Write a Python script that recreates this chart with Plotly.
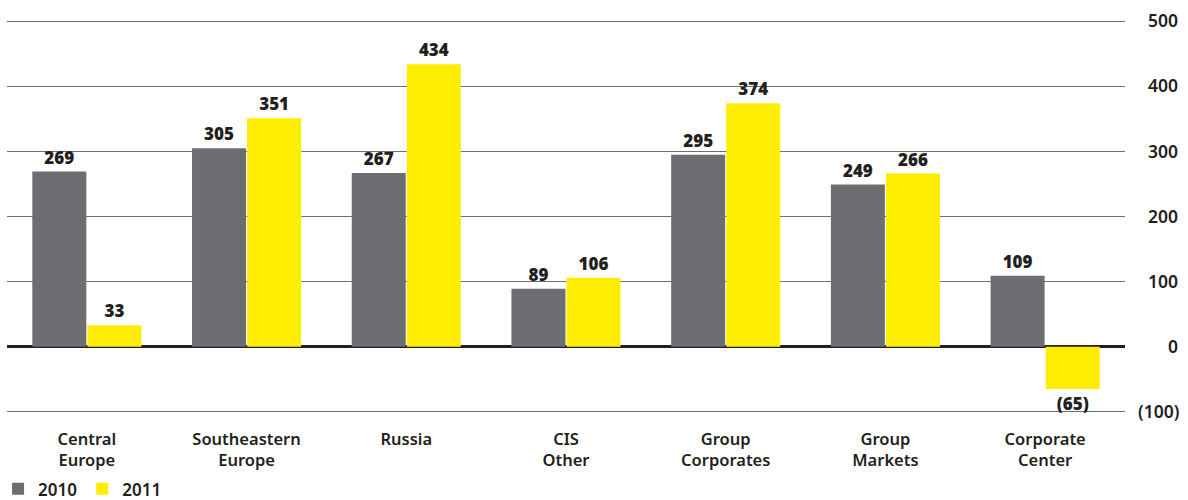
import plotly.graph_objects as go

categories = ["Central<br>Europe", "Southeastern<br>Europe", "Russia", "CIS<br>Other",
              "Group<br>Corporates", "Group<br>Markets", "Corporate<br>Center"]
values_2010 = [269, 305, 267, 89, 295, 249, 109]
values_2011 = [33, 351, 434, 106, 374, 266, -65]
tick_vals = [-100, 0, 100, 200, 300, 400, 500]
tick_text = ["(100)", "0", "100", "200", "300", "400", "500"]


def fmt(v):
    return f"({abs(v)})" if v < 0 else f"{v}"


def right_align(labels):
    # pad with figure spaces so the right-side labels line up on their right edge
    out = []
    for t in labels:
        if t.startswith("("):
            out.append(t)
        else:
            out.append("\u2007" * (4 - len(t)) + t)
    return out


GRAY = "#6d6e71"
YELLOW = "#ffed00"
FONT = "Noto Sans"

fig = go.Figure()
for name, vals, col in [("2010", values_2010, GRAY), ("2011", values_2011, YELLOW)]:
    fig.add_trace(go.Bar(
        name=name, x=categories, y=vals, marker=dict(color=col, line=dict(width=0)),
        text=[fmt(v) for v in vals], textposition="outside",
        textfont=dict(family=FONT, size=17, color="#231f20", weight=900),
        cliponaxis=False,
    ))

fig.update_layout(
    width=1188, height=500,
    margin=dict(l=7, r=63, t=20, b=87, autoexpand=False),
    paper_bgcolor="white", plot_bgcolor="white",
    barmode="group", bargap=0.31, bargroupgap=0.02,
    showlegend=True,
    legend=dict(orientation="h", x=-0.008, xanchor="left", y=-0.24, yanchor="bottom",
                font=dict(family=FONT, size=17, color="#231f20", weight=600),
                itemwidth=30, tracegroupgap=0, itemsizing="constant",
                traceorder="normal", bgcolor="rgba(0,0,0,0)"),
    xaxis=dict(showgrid=False, showline=False, ticks="", ticklabelstandoff=14,
               tickfont=dict(family=FONT, size=16.5, color="#231f20", weight=600)),
    yaxis=dict(side="right", range=[-102, 502], tickvals=tick_vals,
               ticktext=right_align(tick_text),
               showgrid=True, gridcolor="#6d6e71", gridwidth=1.3,
               zeroline=True, zerolinecolor="#231f20", zerolinewidth=2.5,
               showline=False, ticks="", ticklabelstandoff=12,
               tickfont=dict(family=FONT, size=17.5, color="#231f20", weight=600)),
    font=dict(family=FONT),
)

fig.write_html("out.html", config={"displayModeBar": False},
               post_script="document.body.style.margin='0px';document.body.style.overflow='hidden';")
